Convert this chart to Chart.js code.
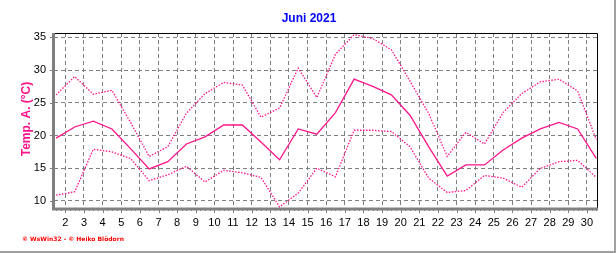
<!DOCTYPE html>
<html>
<head>
<meta charset="utf-8">
<script src="https://cdn.jsdelivr.net/npm/chart.js@4.4.1/dist/chart.umd.min.js"></script>
<style>
  html, body { margin: 0; padding: 0; background: #fff; }
  #wrap { width: 616px; height: 253px; }
</style>
</head>
<body>
<div id="wrap"><canvas id="chart" width="616" height="253"></canvas></div>
<script>
// June 2021, one value per day, plotted mid-day
const days = [1.5, 2.5, 3.5, 4.5, 5.5, 6.5, 7.5, 8.5, 9.5, 10.5, 11.5, 12.5, 13.5, 14.5, 15.5,
              16.5, 17.5, 18.5, 19.5, 20.5, 21.5, 22.5, 23.5, 24.5, 25.5, 26.5, 27.5, 28.5, 29.5, 30.5];
const tMax  = [26.2, 29.0, 26.3, 26.9, 22.0, 16.8, 18.3, 23.4, 26.4, 28.1, 27.7, 22.8, 24.2, 30.3, 25.8,
               32.4, 35.4, 34.8, 33.1, 28.3, 23.4, 16.8, 20.5, 18.7, 23.5, 26.4, 28.2, 28.6, 26.8, 19.4];
const tMean = [19.6, 21.3, 22.2, 21.0, 18.0, 14.9, 16.0, 18.7, 19.8, 21.6, 21.6, 19.0, 16.3, 21.0, 20.2,
               23.5, 28.6, 27.5, 26.2, 23.1, 18.3, 13.8, 15.5, 15.5, 17.8, 19.6, 21.0, 22.0, 21.0, 16.5];
const tMin  = [10.9, 11.4, 17.9, 17.5, 16.5, 13.1, 14.0, 15.3, 12.9, 14.7, 14.3, 13.6, 9.1, 11.2, 15.0,
               13.7, 20.8, 20.8, 20.6, 18.3, 13.5, 11.3, 11.6, 13.9, 13.5, 12.1, 15.0, 16.0, 16.2, 13.6];
const xTicks = [2, 3, 4, 5, 6, 7, 8, 9, 10, 11, 12, 13, 14, 15, 16, 17, 18, 19, 20, 21, 22, 23, 24, 25, 26, 27, 28, 29, 30];
const yTicks = [10, 15, 20, 25, 30, 35];

const pink = 'rgb(255,20,140)';
const toPts = vals => vals.map((v, i) => ({ x: days[i], y: v }));

Chart.defaults.font.family = '"Liberation Sans", Arial, sans-serif';
Chart.defaults.color = '#000';

// frame, axis lines, minor ticks and texts
const decor = {
  id: 'decor',
  afterDatasetsDraw(chart) {
    const { ctx, chartArea: a, scales: { x, y } } = chart;
    ctx.save();
    ctx.strokeStyle = '#000';
    ctx.lineWidth = 1;
    ctx.beginPath();
    ctx.moveTo(a.left, a.top + 0.5); ctx.lineTo(a.right + 0.5, a.top + 0.5);
    ctx.lineTo(a.right + 0.5, a.bottom);
    ctx.stroke();

    ctx.strokeStyle = '#808080';
    ctx.lineWidth = 1;
    ctx.beginPath();
    for (let v = 9; v <= 35; v++) {
      const py = Math.round(y.getPixelForValue(v)) + 0.5;
      ctx.moveTo(a.left - (v % 5 === 0 ? 4 : 2), py); ctx.lineTo(a.left, py);
    }
    for (let v = 1.5; v <= 30.5; v += 0.25) {
      const px = Math.round(x.getPixelForValue(v)) + 0.5;
      ctx.moveTo(px, a.bottom); ctx.lineTo(px, a.bottom + (v % 1 === 0 ? 5 : 3));
    }
    ctx.stroke();

    ctx.lineWidth = 3;
    ctx.beginPath();
    ctx.moveTo(a.left - 0.5, a.top); ctx.lineTo(a.left - 0.5, a.bottom + 1);
    ctx.lineTo(a.right + 1, a.bottom + 1);
    ctx.stroke();
    ctx.restore();
  },
  afterDraw(chart) {
    const { ctx } = chart;
    ctx.save();
    ctx.fillStyle = '#0000ff';
    ctx.font = 'bold 12px "Liberation Sans", Arial';
    ctx.textAlign = 'center';
    ctx.textBaseline = 'middle';
    ctx.fillText('Juni 2021', 309, 19);

    ctx.save();
    ctx.translate(27, 119);
    ctx.rotate(-Math.PI / 2);
    ctx.fillStyle = pink;
    ctx.font = 'bold 12px "Liberation Sans", Arial';
    ctx.fillText('Temp. A. (°C)', 0, 0);
    ctx.restore();

    ctx.fillStyle = '#ff0000';
    ctx.font = 'bold 6px "DejaVu Sans", Verdana';
    ctx.textAlign = 'left';
    ctx.fillText('© WsWin32 - © Heiko Blödorn', 22, 239);

    ctx.fillStyle = '#a0a0a0';
    ctx.fillRect(614, 0, 2, 253);
    ctx.fillRect(0, 251, 616, 2);
    ctx.restore();
  }
};

const lineDs = (label, vals, dash, width) => ({
  label,
  data: toPts(vals),
  borderColor: pink,
  borderWidth: width,
  borderDash: dash,
  pointRadius: 0,
  tension: 0,
  fill: false
});

new Chart(document.getElementById('chart').getContext('2d'), {
  type: 'line',
  data: {
    datasets: [
      lineDs('Max', tMax, [1.5, 1.5], 1.3),
      lineDs('Mittel', tMean, [], 1.3),
      lineDs('Min', tMin, [1.5, 1.5], 1.3)
    ]
  },
  options: {
    responsive: false,
    animation: false,
    events: [],
    layout: { padding: { left: 0, right: 19, top: 33, bottom: 0 } },
    plugins: { legend: { display: false }, title: { display: false }, tooltip: { enabled: false } },
    scales: {
      x: {
        type: 'linear',
        min: 1.39,
        max: 30.54,
        afterBuildTicks: s => { s.ticks = xTicks.map(v => ({ value: v })); },
        afterFit: s => { s.height = 45; },
        ticks: { font: { size: 11 }, padding: 8, maxRotation: 0, autoSkip: false },
        grid: { color: '#808080', lineWidth: 1, drawTicks: false },
        border: { display: false, dash: [4, 3] }
      },
      y: {
        min: 8.93,
        max: 35.65,
        afterBuildTicks: s => { s.ticks = yTicks.map(v => ({ value: v })); },
        afterFit: s => { s.width = 54; },
        ticks: { font: { size: 11 }, padding: 8 },
        grid: { color: '#808080', lineWidth: 1, drawTicks: false },
        border: { display: false, dash: [4, 3] }
      }
    }
  },
  plugins: [decor]
});
</script>
</body>
</html>
